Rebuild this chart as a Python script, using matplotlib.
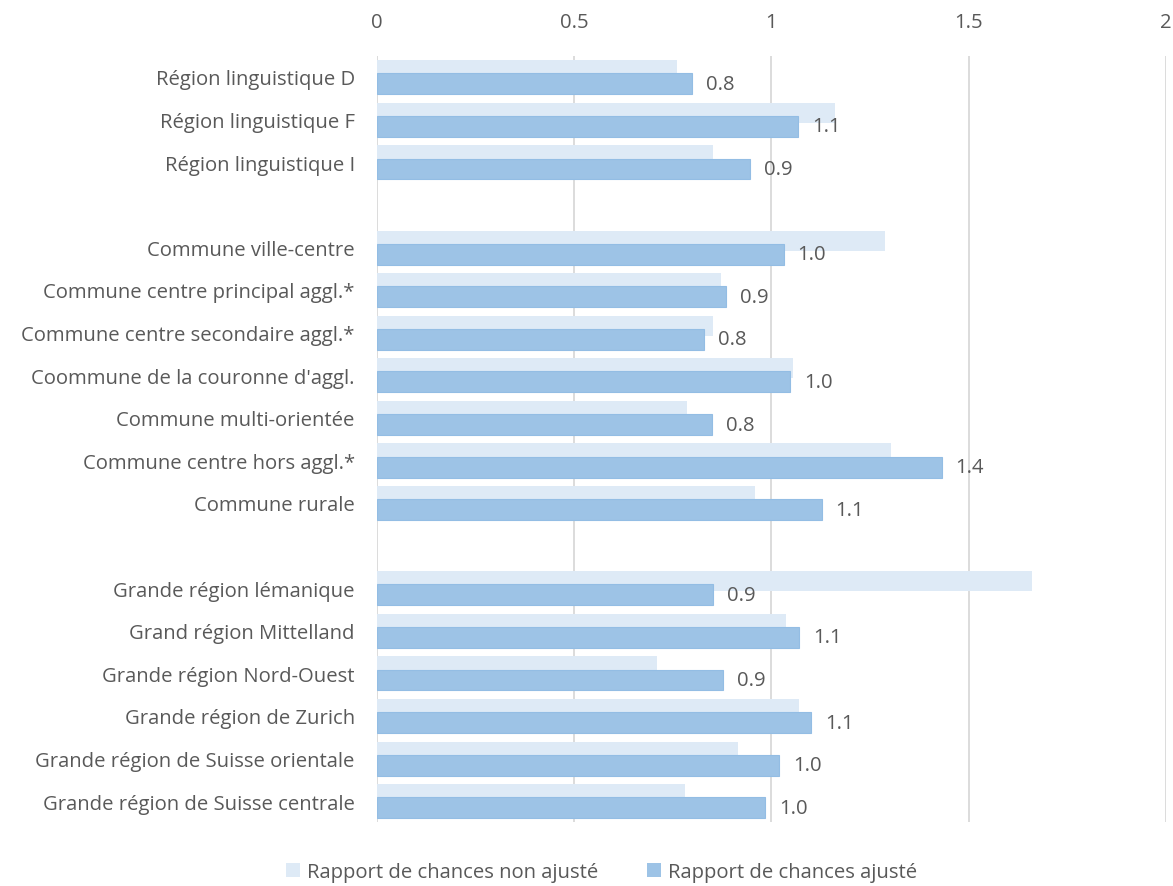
import matplotlib
matplotlib.use("Agg")
import matplotlib.pyplot as plt
from matplotlib.patches import Patch

plt.rcParams['font.family'] = ['Open Sans', 'DejaVu Sans']

categories = [
    "Région linguistique D",
    "Région linguistique F",
    "Région linguistique I",
    "",
    "Commune ville-centre",
    "Commune centre principal aggl.*",
    "Commune centre secondaire aggl.*",
    "Coommune de la couronne d'aggl.",
    "Commune multi-orientée",
    "Commune centre hors aggl.*",
    "Commune rurale",
    "",
    "Grande région lémanique",
    "Grand région Mittelland",
    "Grande région Nord-Ouest",
    "Grande région de Zurich",
    "Grande région de Suisse orientale",
    "Grande région de Suisse centrale",
]

# None marks the blank separator rows between groups
unadjusted = [0.761, 1.161, 0.852, None,
              1.288, 0.873, 0.852, 1.055, 0.786, 1.304, 0.959, None,
              1.660, 1.038, 0.710, 1.069, 0.916, 0.780]
adjusted = [0.798, 1.067, 0.945, None,
            1.031, 0.885, 0.829, 1.047, 0.849, 1.431, 1.127, None,
            0.853, 1.071, 0.878, 1.100, 1.019, 0.984]

series_names = ["Rapport de chances non ajusté", "Rapport de chances ajusté"]
x_ticks = [0, 0.5, 1, 1.5, 2]
x_tick_labels = ["0", "0.5", "1", "1.5", "2"]

TEXT = "#595959"
LIGHT = "#DEEAF6"
DARK = "#9DC3E6"
GRID = "#D9D9D9"
FS = 14.6

fig = plt.figure(figsize=(11.73, 8.87), dpi=100)
ax = fig.add_axes([0.3214, 0.0718, 0.6726, 0.8643])

for i, (u, a) in enumerate(zip(unadjusted, adjusted)):
    if u is not None:
        ax.barh(i - 0.16, u, height=0.47, color=LIGHT, edgecolor="none", zorder=2)
    if a is not None:
        ax.barh(i + 0.16, a, height=0.49, color=DARK, edgecolor="#93BDE4",
                linewidth=0.8, zorder=3)
        ax.annotate(f"{a:.1f}", xy=(a, i + 0.16), xytext=(10, 0),
                    textcoords="offset points", va="center", ha="left",
                    fontsize=FS, color=TEXT, zorder=4)

ax.set_xlim(0, 2)
ax.set_ylim(len(categories) - 0.5, -0.5)
ax.set_yticks(range(len(categories)))
ax.set_yticklabels(categories)
ax.set_xticks(x_ticks)
ax.set_xticklabels(x_tick_labels)
ax.xaxis.tick_top()
ax.tick_params(axis="x", length=0, pad=17, labelsize=FS, labelcolor=TEXT)
ax.tick_params(axis="y", length=0, pad=16, labelsize=FS, labelcolor=TEXT)
ax.grid(axis="x", color=GRID, linewidth=1.3, zorder=0)
ax.set_axisbelow(True)
for s in ax.spines.values():
    s.set_visible(False)

handles = [Patch(facecolor=LIGHT, edgecolor="none"),
           Patch(facecolor=DARK, edgecolor="none")]
fig.legend(handles, series_names, loc="center", bbox_to_anchor=(0.513, 0.016),
           ncol=2, frameon=False, fontsize=FS, labelcolor=TEXT,
           handlelength=0.7, handleheight=0.7, handletextpad=0.35,
           columnspacing=2.4)

fig.savefig("out.png", dpi=100)
